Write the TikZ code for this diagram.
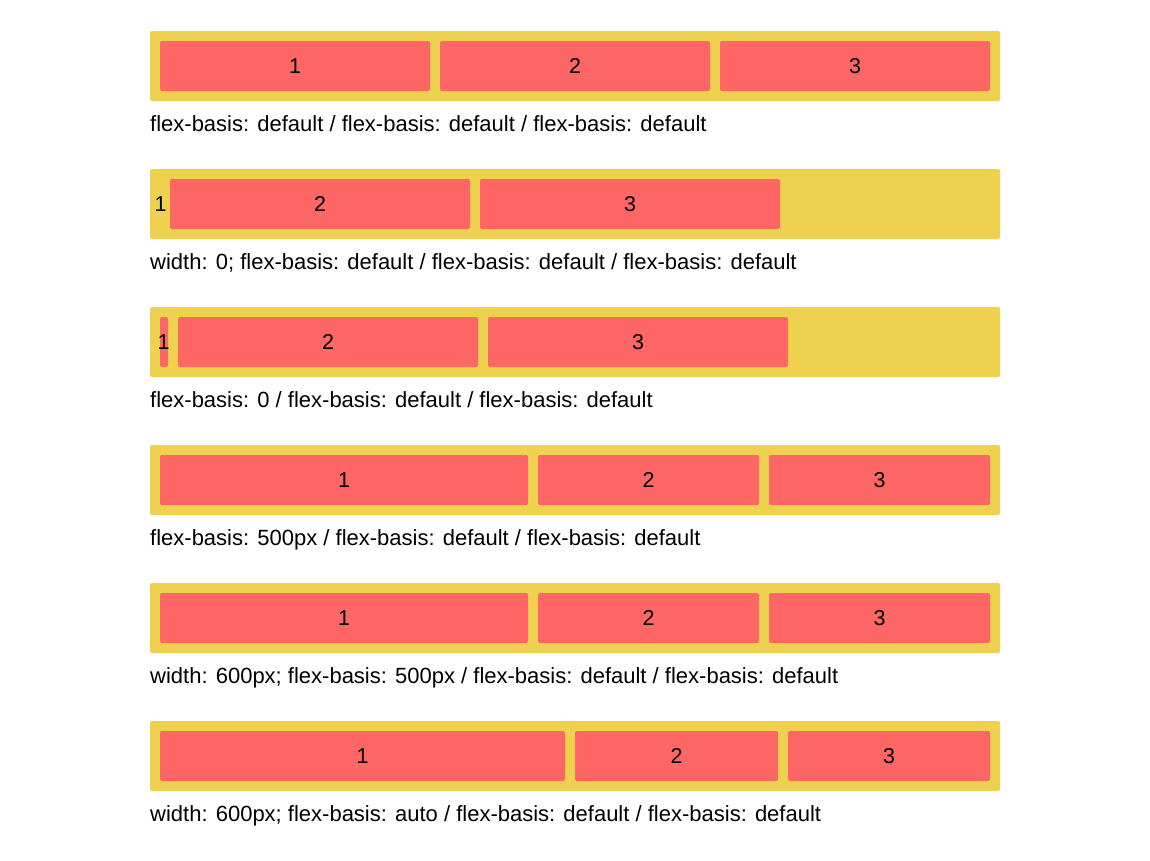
\documentclass[tikz,border=0pt]{standalone}
\usepackage{fontspec}
\setmainfont{Liberation Sans}
\definecolor{boxyellow}{HTML}{EDD14F}
\definecolor{itemred}{HTML}{FF6666}
\begin{document}
\begin{tikzpicture}[x=1pt,y=-1pt,
  container/.style={fill=boxyellow, rounded corners=2pt, inner sep=0pt,
    minimum width=850pt, minimum height=70pt},
  flexitem/.style={fill=itemred, rounded corners=2pt, inner sep=0pt,
    minimum height=50pt, font=\fontsize{21.5}{24}\selectfont},
  caption/.style={anchor=base west, inner sep=0pt, font=\fontsize{22}{24}\selectfont},
  num/.style={inner sep=0pt, font=\fontsize{21.5}{24}\selectfont}]
\useasboundingbox (0,0) rectangle (1150,860);

% Row 1: all default
\node[container] (c1) at (575,66) {};
\node[flexitem, minimum width=270pt] (r1a) at (295,66) {1};
\node[flexitem, minimum width=270pt] (r1b) at (575,66) {2};
\node[flexitem, minimum width=270pt] (r1c) at (855,66) {3};
\node[caption] (t1) at (150,131) {flex-basis: default / flex-basis: default / flex-basis: default};

% Row 2: width 0 on the first item
\node[container] (c2) at (575,204) {};
\node[num] (r2a) at (160.5,204) {1};
\node[flexitem, minimum width=300pt] (r2b) at (320,204) {2};
\node[flexitem, minimum width=300pt] (r2c) at (630,204) {3};
\node[caption] (t2) at (150,269) {width: 0; flex-basis: default / flex-basis: default / flex-basis: default};

% Row 3: flex-basis 0 on the first item
\node[container] (c3) at (575,342) {};
\node[flexitem, minimum width=8pt] (r3a) at (164,342) {};
\node[num] (r3n) at (163.5,342) {1};
\node[flexitem, minimum width=300pt] (r3b) at (328,342) {2};
\node[flexitem, minimum width=300pt] (r3c) at (638,342) {3};
\node[caption] (t3) at (150,407) {flex-basis: 0 / flex-basis: default / flex-basis: default};

% Row 4: flex-basis 500px
\node[container] (c4) at (575,480) {};
\node[flexitem, minimum width=368pt] (r4a) at (344,480) {1};
\node[flexitem, minimum width=221pt] (r4b) at (648.5,480) {2};
\node[flexitem, minimum width=221pt] (r4c) at (879.5,480) {3};
\node[caption] (t4) at (150,545) {flex-basis: 500px / flex-basis: default / flex-basis: default};

% Row 5: width 600px with flex-basis 500px
\node[container] (c5) at (575,618) {};
\node[flexitem, minimum width=368pt] (r5a) at (344,618) {1};
\node[flexitem, minimum width=221pt] (r5b) at (648.5,618) {2};
\node[flexitem, minimum width=221pt] (r5c) at (879.5,618) {3};
\node[caption] (t5) at (150,683) {width: 600px; flex-basis: 500px / flex-basis: default / flex-basis: default};

% Row 6: width 600px with flex-basis auto
\node[container] (c6) at (575,756) {};
\node[flexitem, minimum width=405pt] (r6a) at (362.5,756) {1};
\node[flexitem, minimum width=203pt] (r6b) at (676.5,756) {2};
\node[flexitem, minimum width=202pt] (r6c) at (889,756) {3};
\node[caption] (t6) at (150,821) {width: 600px; flex-basis: auto / flex-basis: default / flex-basis: default};
\end{tikzpicture}
\end{document}
